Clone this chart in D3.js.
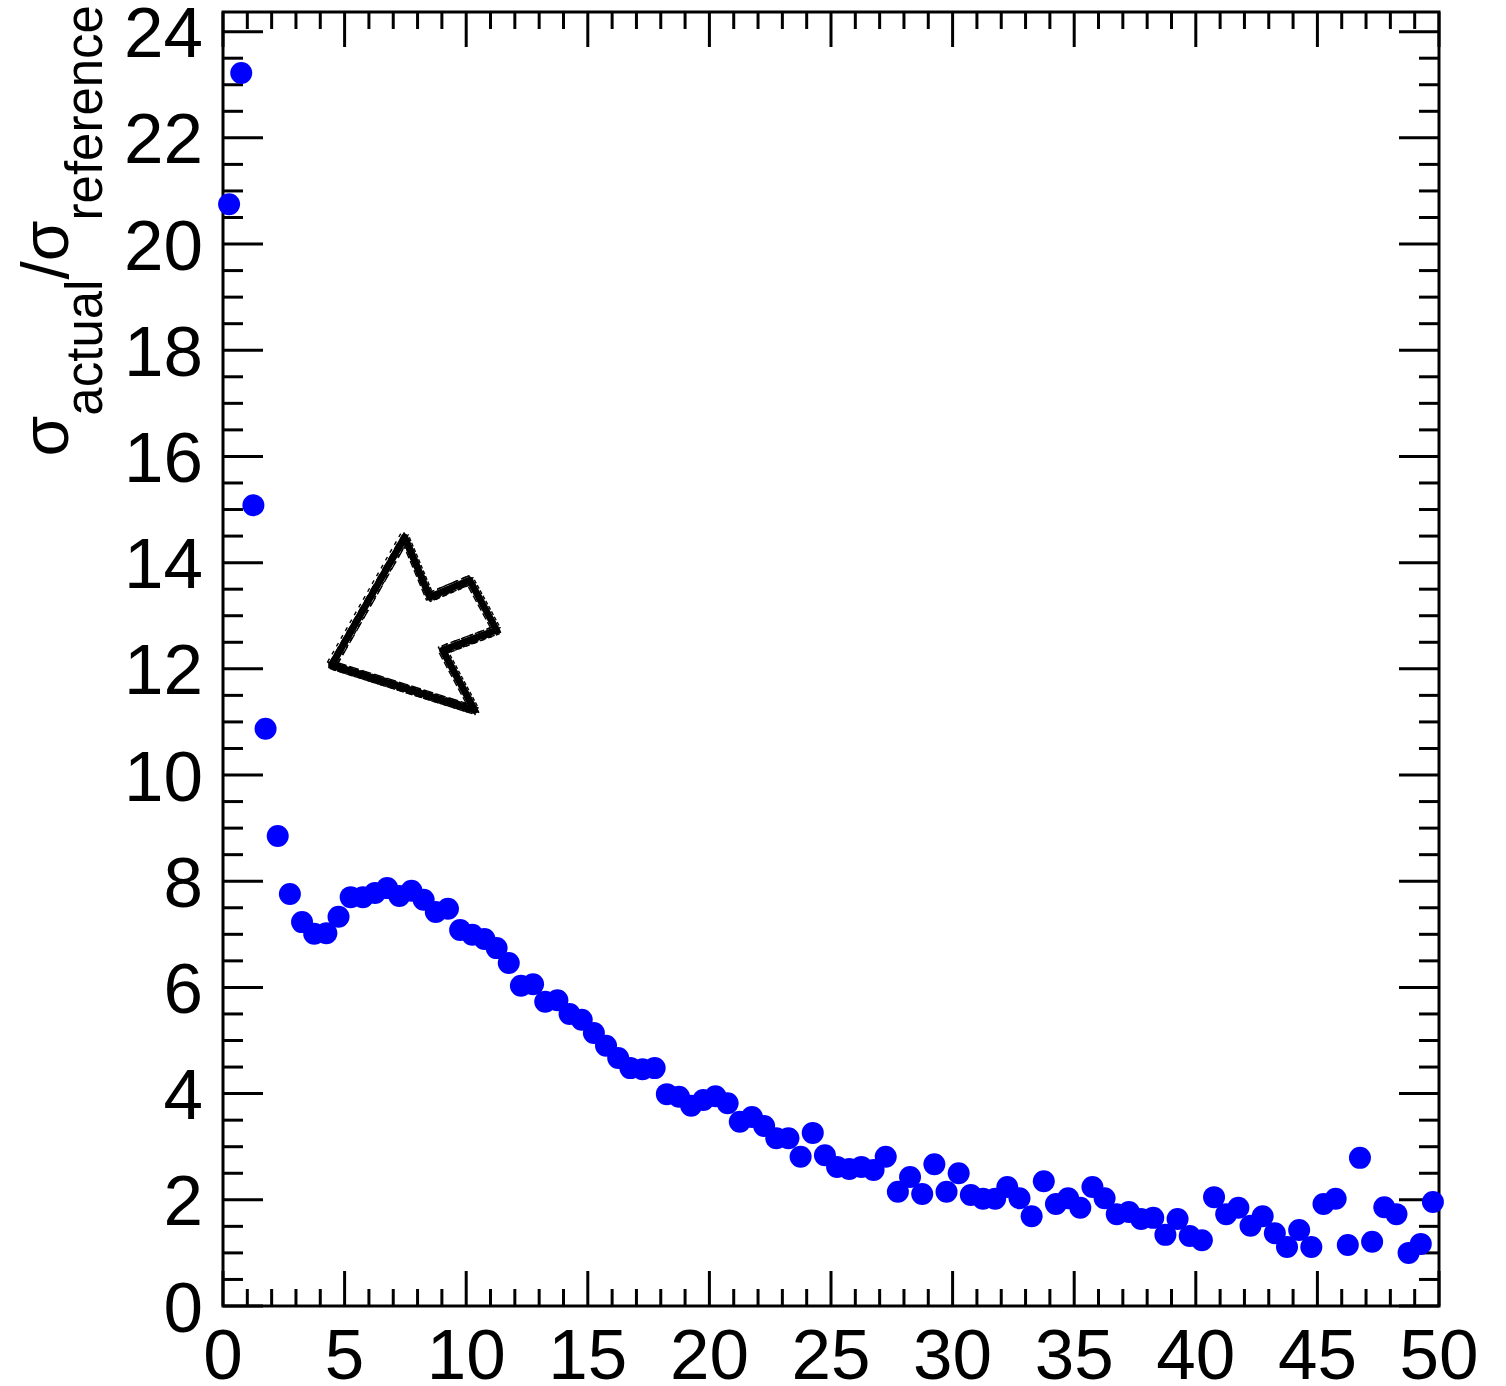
<!DOCTYPE html>
<html>
<head>
<meta charset="utf-8">
<script src="https://cdn.jsdelivr.net/npm/d3@7"></script>
<style>
  body { margin: 0; background: #fff; }
  text { font-family: "Liberation Sans", Arial, sans-serif; }
</style>
</head>
<body>
<svg id="chart" width="1506" height="1386"></svg>
<script>
// bin centres and ratio values
const xValues = [0.25, 0.75, 1.25, 1.75, 2.25, 2.75, 3.25, 3.75, 4.25, 4.75,
  5.25, 5.75, 6.25, 6.75, 7.25, 7.75, 8.25, 8.75, 9.25, 9.75,
  10.25, 10.75, 11.25, 11.75, 12.25, 12.75, 13.25, 13.75, 14.25, 14.75,
  15.25, 15.75, 16.25, 16.75, 17.25, 17.75, 18.25, 18.75, 19.25, 19.75,
  20.25, 20.75, 21.25, 21.75, 22.25, 22.75, 23.25, 23.75, 24.25, 24.75,
  25.25, 25.75, 26.25, 26.75, 27.25, 27.75, 28.25, 28.75, 29.25, 29.75,
  30.25, 30.75, 31.25, 31.75, 32.25, 32.75, 33.25, 33.75, 34.25, 34.75,
  35.25, 35.75, 36.25, 36.75, 37.25, 37.75, 38.25, 38.75, 39.25, 39.75,
  40.25, 40.75, 41.25, 41.75, 42.25, 42.75, 43.25, 43.75, 44.25, 44.75,
  45.25, 45.75, 46.25, 46.75, 47.25, 47.75, 48.25, 48.75, 49.25, 49.75];

const ratioValues = [20.75, 23.22, 15.08, 10.87, 8.85, 7.76, 7.23, 7.01, 7.02, 7.33,
  7.70, 7.70, 7.78, 7.87, 7.72, 7.82, 7.65, 7.42, 7.48, 7.08,
  6.99, 6.91, 6.74, 6.46, 6.03, 6.06, 5.73, 5.76, 5.50, 5.39,
  5.14, 4.90, 4.67, 4.48, 4.46, 4.48, 3.99, 3.94, 3.77, 3.88,
  3.95, 3.82, 3.47, 3.56, 3.39, 3.16, 3.16, 2.81, 3.26, 2.84,
  2.62, 2.58, 2.62, 2.56, 2.81, 2.15, 2.43, 2.11, 2.67, 2.15,
  2.50, 2.09, 2.02, 2.02, 2.24, 2.03, 1.69, 2.35, 1.92, 2.03,
  1.85, 2.24, 2.03, 1.73, 1.77, 1.64, 1.66, 1.34, 1.64, 1.32,
  1.24, 2.05, 1.73, 1.85, 1.51, 1.69, 1.37, 1.11, 1.43, 1.11,
  1.92, 2.02, 1.15, 2.79, 1.21, 1.86, 1.73, 1.00, 1.17, 1.96];

const xMajorTicks = [0, 5, 10, 15, 20, 25, 30, 35, 40, 45, 50];
const yMajorTicks = [0, 2, 4, 6, 8, 10, 12, 14, 16, 18, 20, 22, 24];

// arrow outline (data coordinates), tip at lower left
const arrowX = [4.47, 7.47, 8.50, 10.14, 11.25, 9.03, 10.35];
const arrowY = [12.07, 14.48, 13.35, 13.67, 12.73, 12.35, 11.22];

const margin = {left: 223, right: 1439, top: 12, bottom: 1306};
const svg = d3.select("#chart");

const x = d3.scaleLinear().domain([0, 50]).range([margin.left, margin.right]);
const y = d3.scaleLinear().domain([0, 24.37]).range([margin.bottom, margin.top]);

const xMinor = d3.range(0, 51, 1);
const yMinor = d3.range(0, 24.37, 0.5);

// ticks (ROOT style: on all four sides)
let ticksG = svg.append("g").attr("stroke", "#000").attr("stroke-width", 3);
xMinor.forEach(function (v) {
    let len = (v % 5 === 0) ? 35 : 17;
    ticksG.append("line").attr("x1", x(v)).attr("x2", x(v))
        .attr("y1", margin.bottom).attr("y2", margin.bottom - len);
    ticksG.append("line").attr("x1", x(v)).attr("x2", x(v))
        .attr("y1", margin.top).attr("y2", margin.top + len);
});
yMinor.forEach(function (v) {
    let len = (v % 2 === 0) ? 40 : 20;
    ticksG.append("line").attr("y1", y(v)).attr("y2", y(v))
        .attr("x1", margin.left).attr("x2", margin.left + len);
    ticksG.append("line").attr("y1", y(v)).attr("y2", y(v))
        .attr("x1", margin.right).attr("x2", margin.right - len);
});

// frame
svg.append("rect")
    .attr("x", margin.left).attr("y", margin.top)
    .attr("width", margin.right - margin.left)
    .attr("height", margin.bottom - margin.top)
    .attr("fill", "none").attr("stroke", "#000").attr("stroke-width", 3);

// tick labels
svg.append("g").selectAll("text")
    .data(xMajorTicks)
    .enter()
    .append("text")
    .attr("x", function (d) { return x(d); })
    .attr("y", 1379)
    .attr("text-anchor", "middle")
    .attr("font-size", 71)
    .text(function (d) { return d; });

svg.append("g").selectAll("text")
    .data(yMajorTicks)
    .enter()
    .append("text")
    .attr("x", 203)
    .attr("y", function (d) { return y(d); })
    .attr("dy", "0.36em")
    .attr("text-anchor", "end")
    .attr("font-size", 71)
    .text(function (d) { return d; });

// y title
let title = svg.append("text")
    .attr("transform", "translate(68,5) rotate(-90)")
    .attr("text-anchor", "end")
    .attr("font-size", 66);
title.append("tspan").text("σ");
title.append("tspan").attr("dy", 34).attr("font-size", 51).text("actual");
title.append("tspan").attr("dy", -34).text("/σ");
title.append("tspan").attr("dy", 34).attr("font-size", 51).text("reference");

// markers
svg.append("g").selectAll("circle")
    .data(xValues)
    .enter()
    .append("circle")
    .attr("cx", function (d) { return x(d); })
    .attr("cy", function (d, i) { return y(ratioValues[i]); })
    .attr("r", 11)
    .attr("fill", "#0000ff");

// sketchy arrow
let arrowPts = arrowX.map(function (v, i) { return [x(v), y(arrowY[i])]; });
let line = d3.line().curve(d3.curveLinearClosed);
let arrowG = svg.append("g").attr("fill", "none").attr("stroke", "#000")
    .attr("stroke-linejoin", "round");
arrowG.append("path").attr("d", line(arrowPts)).attr("stroke-width", 7);
let offsets = [[3.6, -2.4], [-3.2, 3.0], [4.0, 2.2], [-4.2, -3.0], [0.5, 4.3], [-0.6, -4.4], [2.6, 3.8], [-2.8, -1.2]];
offsets.forEach(function (o, k) {
    arrowG.append("path")
        .attr("d", line(arrowPts.map(function (p) { return [p[0] + o[0], p[1] + o[1]]; })))
        .attr("stroke-width", 1.4)
        .attr("stroke-dasharray", (4 + k % 3 * 3) + " " + (2 + k % 4));
});
</script>
</body>
</html>
